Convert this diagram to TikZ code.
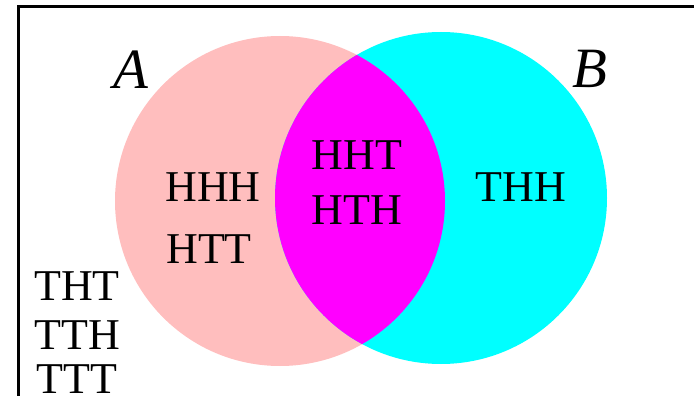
\documentclass[tikz,border=0pt]{standalone}
\usepackage{fontspec}
\setmainfont{Liberation Serif}
\usepackage{tikz}
\usepackage{xcolor}

\definecolor{setpink}{RGB}{255,190,190}
\definecolor{setcyan}{RGB}{0,255,255}
\definecolor{setmagenta}{RGB}{255,0,255}

\begin{document}
\begin{tikzpicture}[x=1pt, y=-1pt,
    outcome_style/.style={font=\fontsize{44}{44}\selectfont, inner sep=0pt, anchor=center},
    set_label/.style={font=\fontsize{57}{57}\selectfont\itshape, inner sep=0pt, anchor=center},
    frame_style/.style={line width=3pt, black}
]
    % Page area
    \clip (0,0) rectangle (694,396);

    % Circles for the two events
    \fill[setpink] (280,201) circle (165);
    \fill[setcyan] (441,198) circle (166);
    \begin{scope}
        \clip (280,201) circle (165);
        \fill[setmagenta] (441,198) circle (166);
    \end{scope}

    % Sample space frame
    \draw[frame_style] (18,6.5) rectangle (760,460);

    % Set names
    \node (A_label) at (131,70) [set_label] {A};
    \node (B_label) at (590,69) [set_label] {B};

    % Outcomes only in A
    \node (hhh) at (213,187) [outcome_style] {HHH};
    \node (htt) at (209,249) [outcome_style] {HTT};

    % Outcomes in both
    \node (hht) at (357,155) [outcome_style] {HHT};
    \node (hth) at (357,210) [outcome_style] {HTH};

    % Outcome only in B
    \node (thh) at (521,187) [outcome_style] {THH};

    % Outcomes in neither
    \node (tht) at (77,286) [outcome_style] {THT};
    \node (tth) at (77,335) [outcome_style] {TTH};
    \node (ttt) at (77,379) [outcome_style] {TTT};

\end{tikzpicture}
\end{document}
